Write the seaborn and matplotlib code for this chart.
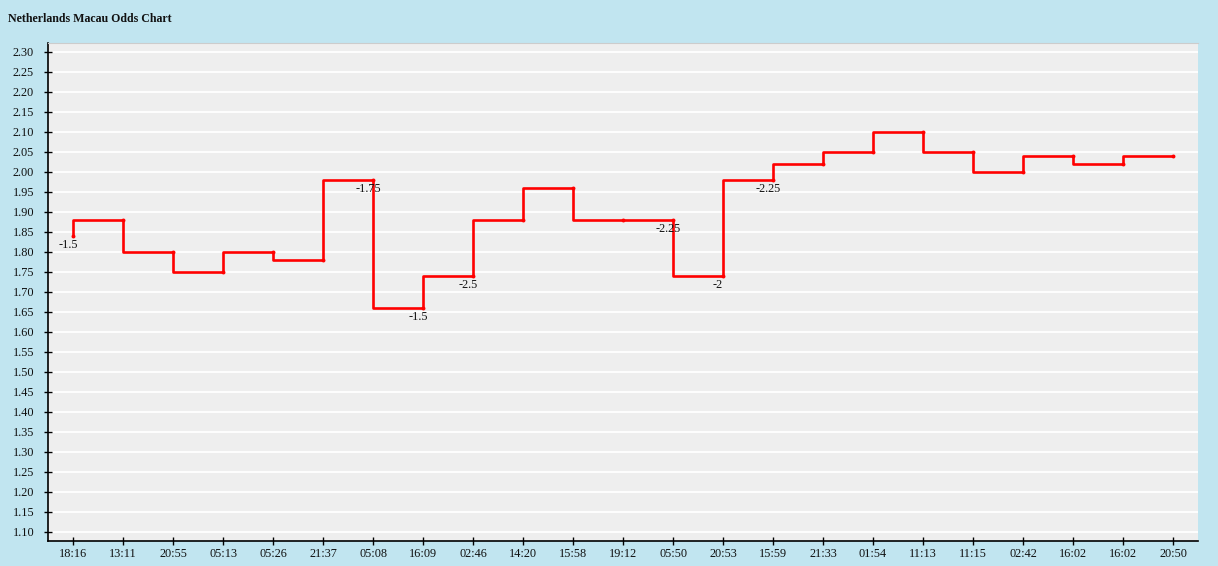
import numpy as np
import matplotlib
matplotlib.use('Agg')
import matplotlib.pyplot as plt
import seaborn as sns

times = ['18:16', '13:11', '20:55', '05:13', '05:26', '21:37', '05:08', '16:09',
         '02:46', '14:20', '15:58', '19:12', '05:50', '20:53', '15:59', '21:33',
         '01:54', '11:13', '11:15', '02:42', '16:02', '16:02', '20:50']
odds = [1.84, 1.88, 1.80, 1.75, 1.80, 1.78, 1.98, 1.66, 1.74, 1.88, 1.96, 1.88,
        1.88, 1.74, 1.98, 2.02, 2.05, 2.10, 2.05, 2.00, 2.04, 2.02, 2.04]
# handicap labels, keyed by point index
handicap_idx = [0, 6, 7, 8, 12, 13, 14]
handicap_txt = ['-1.5', '-1.75', '-1.5', '-2.5', '-2.25', '-2', '-2.25']
y_ticks = [1.10, 1.15, 1.20, 1.25, 1.30, 1.35, 1.40, 1.45, 1.50, 1.55, 1.60, 1.65,
           1.70, 1.75, 1.80, 1.85, 1.90, 1.95, 2.00, 2.05, 2.10, 2.15, 2.20, 2.25, 2.30]

sns.set_style('darkgrid', {'axes.facecolor': '#EEEEEE', 'grid.color': 'white',
                           'xtick.bottom': True, 'ytick.left': True})
plt.rcParams['font.family'] = ['Liberation Serif', 'DejaVu Serif']

bg = '#C1E5F0'
fig = plt.figure(figsize=(12.18, 5.66), dpi=100, facecolor=bg)
W, H = 1218, 566
ax = fig.add_axes([48 / W, (H - 541) / H, 1150 / W, (541 - 42.5) / H])

idx = np.arange(len(odds))
sns.lineplot(x=idx, y=odds, ax=ax, color='red', linewidth=1.9,
             drawstyle='steps-pre', zorder=3)
sns.scatterplot(x=idx, y=odds, ax=ax, color='red', s=8, linewidth=0, zorder=4)

for i, t in zip(handicap_idx, handicap_txt):
    ax.annotate(t, (idx[i], odds[i]), xytext=(-5, -3), textcoords='offset pixels',
                ha='center', va='top', fontsize=8.8, color='#111111')

ax.set_xlim(-0.5, 22.5)
ax.set_ylim(1.0775, 2.323)
ax.set_xticks(idx)
ax.set_xticklabels(times)
ax.set_yticks(y_ticks)
ax.set_yticklabels([f'{v:.2f}' for v in y_ticks])
ax.grid(axis='x', visible=False)
ax.grid(axis='y', linewidth=1.3)
ax.tick_params(bottom=True, left=True, direction='inout', length=6, width=1,
               color='black', labelsize=8.8, labelcolor='#111111')
ax.tick_params(axis='x', pad=2)
ax.tick_params(axis='y', pad=7)
for s in ['left', 'bottom']:
    ax.spines[s].set_visible(True)
    ax.spines[s].set_color('black')
    ax.spines[s].set_linewidth(1.2)
ax.spines['top'].set_visible(True)
ax.spines['top'].set_color('#CCCCCC')
ax.spines['right'].set_visible(False)
ax.set_xlabel('')
ax.set_ylabel('')

fig.text(8 / W, 1 - 19 / H, 'Netherlands Macau Odds Chart', fontsize=8.6,
         fontweight='bold', va='center', ha='left', color='#111111')

fig.savefig('out.png', dpi=100, facecolor=bg)
